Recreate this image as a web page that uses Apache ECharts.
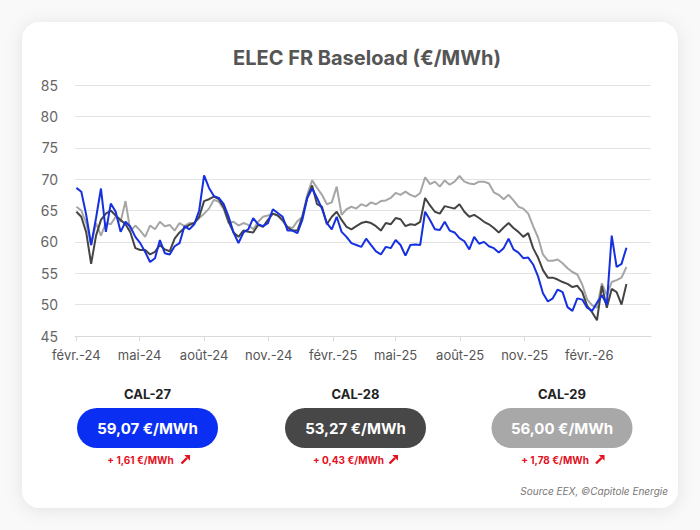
<!DOCTYPE html>
<html>
<head>
<meta charset="utf-8">
<script src="https://cdn.jsdelivr.net/npm/echarts@6/dist/echarts.min.js"></script>
<style>
html,body{margin:0;padding:0;background:#f7f7f7;}
#chart{width:700px;height:530px;}
</style>
</head>
<body>
<div id="chart"></div>
<script>
// ---- data (weekly readings, first point 2024-02-01, one point every 7 days) ----
const START = [2024, 1, 1];      // year, monthIndex, day
const STEP_DAYS = 7;

const cal27 = [68.6,68.0,64.3,59.5,63.8,68.5,61.6,66.1,64.8,61.6,63.2,62.4,60.8,59.8,58.4,56.8,57.4,60.3,58.2,58.0,
  59.3,59.8,62.5,62.0,62.8,65.0,70.6,68.6,67.3,67.0,66.0,64.0,61.5,59.8,61.5,62.0,63.8,62.8,62.5,
  63.0,65.2,64.6,64.0,61.8,61.8,61.4,63.5,67.0,68.5,67.0,65.3,63.0,62.0,64.0,61.6,60.8,59.8,59.5,
  59.2,60.5,59.5,58.5,58.0,59.2,59.0,60.3,59.5,57.8,59.5,59.6,59.5,64.8,63.5,62.0,61.9,63.2,61.8,61.5,
  60.6,60.1,58.8,60.8,59.7,60.0,59.3,59.0,58.3,59.0,60.5,58.8,58.3,57.4,57.5,56.4,54.5,51.8,50.5,
  51.0,52.4,52.0,49.6,49.0,51.0,50.8,49.5,49.0,50.3,51.5,50.0,61.0,56.0,56.5,59.07];

const cal28 = [64.8,64.0,61.5,56.5,61.0,63.5,64.5,65.0,64.2,63.5,62.8,61.5,59.0,58.7,58.7,58.0,58.4,59.5,58.8,58.5,
  60.5,61.5,62.2,62.7,63.0,64.0,66.5,66.8,67.2,66.8,65.5,63.2,61.5,60.8,61.8,61.6,61.5,62.7,62.4,
  63.5,64.5,64.2,63.5,62.3,61.8,61.8,64.0,67.0,69.0,66.0,65.6,62.8,64.0,64.8,63.5,62.4,62.0,62.5,
  63.0,63.2,63.0,62.5,61.8,63.0,62.8,63.8,63.6,62.5,62.8,62.7,63.2,67.0,65.8,64.8,64.5,65.7,65.5,65.3,
  66.0,64.8,64.0,64.3,63.8,63.2,62.8,62.2,61.5,62.3,63.0,62.2,61.6,60.8,61.4,59.0,57.5,55.5,54.3,
  54.3,54.0,53.6,53.3,52.8,53.0,52.0,49.8,48.8,47.5,53.0,49.5,52.5,52.0,50.0,53.27];

const cal29 = [65.6,65.0,63.0,59.5,63.0,61.0,63.0,62.8,64.0,63.2,66.5,61.7,62.6,61.8,60.8,62.6,62.0,63.2,62.5,62.7,
  61.8,63.0,62.5,63.0,63.0,63.8,64.5,65.3,66.7,66.4,65.2,63.0,63.2,62.6,63.0,62.7,62.0,63.2,64.0,
  64.2,64.5,64.2,63.3,62.4,62.2,63.3,64.0,67.5,69.8,68.6,67.5,66.0,66.3,68.8,64.3,65.2,65.6,65.3,
  66.0,65.7,66.3,66.0,66.5,66.6,67.0,67.8,67.5,68.0,67.5,67.2,67.8,70.3,69.2,69.6,68.8,69.8,69.1,69.6,
  70.5,69.6,69.3,69.2,69.6,69.6,69.3,67.9,67.5,66.8,67.5,66.6,65.6,65.3,64.5,62.5,60.7,58.0,57.0,
  57.0,57.2,56.6,55.8,55.2,54.8,53.2,50.8,49.9,49.5,53.4,51.5,53.6,53.9,54.3,56.00];

const tickDates = [[2024,1,1],[2024,4,1],[2024,7,1],[2024,10,1],[2025,1,1],[2025,4,1],[2025,7,1],[2025,10,1],[2026,1,1]];
const tickLabels = ['févr.-24','mai-24','août-24','nov.-24','févr.-25','mai-25','août-25','nov.-25','févr.-26'];

const calNames  = ['CAL-27','CAL-28','CAL-29'];
const calValues = ['59,07 €/MWh','53,27 €/MWh','56,00 €/MWh'];
const calDeltas = ['+ 1,61 €/MWh','+ 0,43 €/MWh','+ 1,78 €/MWh'];

// ---- build ----
const DAY = 86400000;
const t0 = new Date(START[0], START[1], START[2]).getTime();
function toPairs(arr){ return arr.map((v,i)=>[t0 + i*STEP_DAYS*DAY, v]); }
const tickTs = tickDates.map(d=>new Date(d[0],d[1],d[2]).getTime());

const lineColors = ['#1530e0','#444444','#a6a6a6'];
const pillColors = ['#0b2ff2','#474747','#a8a8a8'];
const pillCx = [147.5, 355.5, 562];
const RED = '#e3101e';
const FONT = 'Inter, "Open Sans", sans-serif';

const graphics = [
  {type:'rect', z:-10, shape:{x:22,y:22,width:656,height:486,r:18},
   style:{fill:'#ffffff', shadowBlur:18, shadowColor:'rgba(0,0,0,0.09)', shadowOffsetY:2}},
  {type:'text', style:{text:'ELEC FR Baseload (€/MWh)', x:367, y:58, align:'center', verticalAlign:'middle',
     fill:'#555', fontSize:20, fontWeight:'bold', fontFamily:FONT}}
];
for (let i=0;i<3;i++){
  const cx = pillCx[i];
  graphics.push({type:'text', style:{text:calNames[i], x:cx, y:394, align:'center', verticalAlign:'middle',
     fill:'#222', fontSize:13, fontWeight:'bold', fontFamily:FONT}});
  graphics.push({type:'rect', shape:{x:cx-70.5, y:408, width:141, height:40, r:20}, style:{fill:pillColors[i]}});
  graphics.push({type:'text', style:{text:calValues[i], x:cx, y:428.5, align:'center', verticalAlign:'middle',
     fill:'#ffffff', fontSize:15, fontWeight:'bold', fontFamily:FONT}});
  graphics.push({type:'text', style:{text:calDeltas[i], x:cx-7, y:460, align:'center', verticalAlign:'middle',
     fill:RED, fontSize:10, fontWeight:'bold', fontFamily:FONT}});
  graphics.push({type:'group', x:cx+38, y:459.5, children:[
     {type:'line', shape:{x1:-4, y1:4, x2:1.5, y2:-1.5}, style:{stroke:RED, lineWidth:2.4}},
     {type:'polygon', shape:{points:[[4.5,-4.5],[4.5,1.2],[-1.2,-4.5]]}, style:{fill:RED}}
  ]});
}
graphics.push({type:'text', style:{text:'Source EEX, ©Capitole Energie', x:668, y:491, align:'right', verticalAlign:'middle',
   fill:'#777', fontSize:10, fontStyle:'italic', fontFamily:FONT}});

const chart = echarts.init(document.getElementById('chart'), null, {renderer:'svg'});
chart.setOption({
  backgroundColor:'#f9f9f9',
  animation:false,
  grid:{left:75, right:49, top:85, bottom:194, containLabel:false},
  xAxis:{
    type:'value',
    min:new Date(2024,0,30).getTime(),
    max:new Date(2026,3,30).getTime(),
    axisLine:{show:true, lineStyle:{color:'#d9d9d9'}},
    axisTick:{show:true, length:5, lineStyle:{color:'#d9d9d9'}, customValues:tickTs},
    axisLabel:{customValues:tickTs, margin:12, color:'#555', fontSize:13, fontFamily:FONT,
      formatter:function(v){ for(let i=0;i<tickTs.length;i++){ if(Math.abs(tickTs[i]-v)<DAY) return tickLabels[i]; } return ''; }},
    splitLine:{show:false}
  },
  yAxis:{
    type:'value', min:45, max:85, interval:5,
    axisLine:{show:false}, axisTick:{show:false},
    axisLabel:{color:'#666', fontSize:14, margin:17, fontFamily:FONT},
    splitLine:{lineStyle:{color:'#e3e3e3'}}
  },
  series:[
    {name:'CAL-29', type:'line', data:toPairs(cal29), showSymbol:false, lineStyle:{width:2, color:lineColors[2]}, itemStyle:{color:lineColors[2]}, z:2},
    {name:'CAL-28', type:'line', data:toPairs(cal28), showSymbol:false, lineStyle:{width:2, color:lineColors[1]}, itemStyle:{color:lineColors[1]}, z:3},
    {name:'CAL-27', type:'line', data:toPairs(cal27), showSymbol:false, lineStyle:{width:2, color:lineColors[0]}, itemStyle:{color:lineColors[0]}, z:4}
  ],
  graphic:graphics
});
</script>
</body>
</html>
